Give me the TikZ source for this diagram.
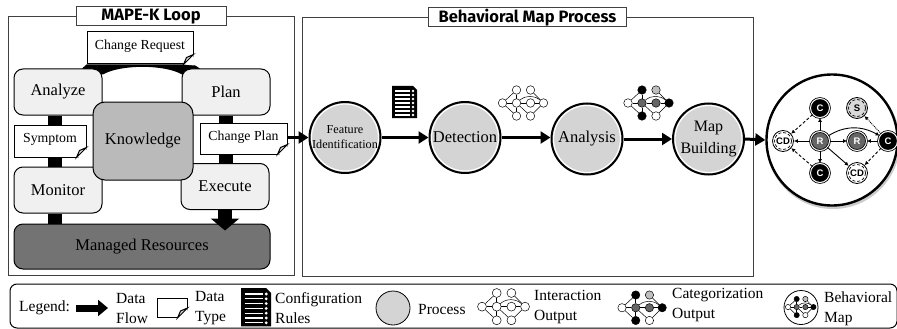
\documentclass[tikz,border=0pt]{standalone}
\usepackage{fontspec}
\setmainfont{Liberation Serif}
\newfontfamily\titlefont{Fira Sans}
\setsansfont{Liberation Sans}
\usetikzlibrary{arrows.meta,backgrounds,bending}
\definecolor{boxgray}{gray}{0.94}
\definecolor{knowgray}{gray}{0.73}
\definecolor{resgray}{gray}{0.45}
\definecolor{procgray}{gray}{0.83}
\tikzset{
frame/.style={draw=black!75,line width=1},
titlebox/.style={draw=black!75,fill=white,line width=1,font=\titlefont\bfseries\fontsize{16.5}{16.5}\selectfont,inner sep=0,minimum height=19},
mape/.style={draw=black,fill=boxgray,line width=1,rounded corners=9,minimum width=88,minimum height=46,inner sep=0,font=\fontsize{16.5}{18}\selectfont},
datatype/.style={draw=black,fill=white,line width=1,inner sep=0,text depth=6,font=\fontsize{13.8}{15}\selectfont},
process/.style={circle,draw=black,fill=procgray,line width=2,minimum size=71,inner sep=0,align=center,font=\fontsize{16.5}{22}\selectfont,
  path picture={\draw[white,line width=1.2] (path picture bounding box.center) circle (33.5);}},
flowbar/.style={line width=14,black},
flow/.style={line width=3,-{Triangle[length=10,width=12]}},
legtext/.style={anchor=west,align=left,inner sep=0,font=\fontsize{15.5}{20}\selectfont},
mapnode/.style={circle,draw=black,line width=.8,minimum size=21,inner sep=0,font=\sffamily\bfseries\fontsize{9.5}{9.5}\selectfont},
mapedge/.style={line width=.9,-{Latex[length=4,width=4]}},
mapdash/.style={mapedge,densely dashed},
mapdot/.style={mapedge,densely dotted},
chosen/.style={mapnode,double=white,double distance=1,fill=#1,text=white,minimum size=19},
ringed/.style={mapnode,fill=#1,path picture={\draw[densely dashed,line width=.7] (path picture bounding box.center) circle (8.5);}}
}
% #1 name, #2 x, #3 y, #4 w, #5 h, #6 text
\newcommand{\notebox}[6]{
\node[datatype,minimum width=#4,minimum height=#5] (#1) at (#2,#3) {#6};
\fill[white] ([xshift=-10]#1.south east) -- ([yshift=10]#1.south east) -- ([xshift=1,yshift=-1]#1.south east) -- cycle;
\draw[line width=1,fill=black!15] ([xshift=-10]#1.south east) -- ([yshift=10]#1.south east) -- ([xshift=-7,yshift=7]#1.south east) -- cycle;
}
% #1 x, #2 y, #3 scale
\newcommand{\rulesicon}[3]{
\begin{scope}[shift={(#1,#2)},scale=#3]
\fill[black] (0,0)--(21,0)--(25,4)--(25,32)--(0,32)--cycle;
\foreach \a in {5,9,...,29}{
	\draw[white,line width=1.3] (3,\a)--(18,\a);
	\fill[white] (21,\a) circle (1.3);
}
\end{scope}
}
% #1 name, #2 x, #3 y, #4 scale, #5 outer, #6 middle, #7 spare
\newcommand{\flowgraph}[7]{
\begin{scope}[shift={(#2,#3)},scale=#4,every node/.style={circle,draw=black,line width=.5,inner sep=0,minimum size=#4*8.5}]
\foreach \n/\px/\py/\col in {l/0/13/white,a/14/0/#5,b/14/13/#6,c/14/26/#5,d/28/0/#7,e/28/13/#6,f/28/26/white,r/41/13/#5}{
	\node[fill=\col] (#1\n) at (\px,\py) {};
}
\end{scope}
\begin{scope}[on background layer]
\foreach \a/\b in {l/a,l/b,l/c,a/b,b/c,b/e,d/r,e/r,f/r,b/f}{
	\draw[line width=.5] (#1\a)--(#1\b);
}
\draw[line width=.5] (#1b) to[bend left=40] (#1r);
\end{scope}
}
\begin{document}
\begin{tikzpicture}[x=1pt,y=-1pt]
\useasboundingbox (0,0) rectangle (897,329);
% MAPE-K side
\node[frame,minimum width=286,minimum height=258] (mapeframe) at (151,146) {};
\node[titlebox,minimum width=150] (mapetitle) at (mapeframe.north) {MAPE-K Loop};
\node[mape] (analyze) at (58,92) {Analyze};
\node[mape] (plan) at (226,92) {Plan};
\node[mape] (monitor) at (58,190) {Monitor};
\node[mape] (execute) at (225,186.5) {Execute};
\node[mape,fill=resgray,minimum width=256,minimum height=45] (managed) at (142,246.5) {Managed Resources};
\node[mape,fill=knowgray,minimum width=100,minimum height=78,rounded corners=12] (knowledge) at (143,141) {Knowledge};
\notebox{request}{140}{48}{106}{32}{Change Request}
\notebox{symptom}{50}{141}{72}{32}{Symptom}
\notebox{change}{243.5}{138.5}{87}{31}{Change Plan}
\begin{pgfonlayer}{background}
\draw[flowbar] ([xshift=-3]analyze.south)--([xshift=-3]monitor.north);
\draw[flowbar] ([xshift=-3]monitor.south)--([xshift=-3]monitor.south |- managed.north);
\draw[flowbar] (plan.south)--(plan.south |- execute.north);
\fill[black] ([xshift=24]analyze.north)--(request.south west)--(request.south east)--([xshift=-26]plan.north)
  --([xshift=-44,yshift=-6]plan.north) .. controls (165,64.3) and (120,64.3) .. ([xshift=45,yshift=-6]analyze.north)--cycle;
\end{pgfonlayer}
\draw[line width=14,-{Triangle[length=12,width=28]}] (execute.south)--([yshift=-7]execute.south |- managed.north);
% behavioral map process
\node[frame,minimum width=451,minimum height=258] (procframe) at (527.5,147) {};
\node[titlebox,minimum width=198] (proctitle) at (procframe.north) {Behavioral Map Process};
\node[process,font=\fontsize{12.2}{15}\selectfont] (feature) at (345,137.5) {Feature\\Identification};
\node[process] (detect) at (465,137.5) {Detection};
\node[process] (analysis) at (587,139) {Analysis};
\node[process,font=\fontsize{16}{22}\selectfont] (building) at (708.5,139) {Map\\Building};
\draw[flow] (change.east |- feature.west)--(feature.west);
\draw[flow] (feature)--(detect);
\draw[flow] (detect.east)--(detect.east -| analysis.west);
\draw[flow] (analysis)--(building);
\rulesicon{392}{86}{1}
\flowgraph{plain}{502.5}{90}{1}{white}{white}{white}
\flowgraph{cat}{628}{90}{1}{black}{black!60}{black!25}
% behavioral map
\fill[black!20] (833,142) circle (67);
\node[circle,draw=black,fill=white,line width=2.4,minimum size=131,inner sep=0] (bigmap) at (832,140) {};
\draw[flow] (building.east)--(bigmap.west);
\node[chosen=black!60] (ra) at (820,141) {R};
\node[chosen=black!60] (rb) at (857,141) {R};
\node[chosen=black] (cr) at (888,141) {C};
\node[chosen=black] (ct) at (820,108) {C};
\node[chosen=black] (cb) at (820,173) {C};
\node[ringed=white] (cdl) at (783,141) {CD};
\node[ringed=white] (cdb) at (857,173) {CD};
\node[ringed=black!15] (sv) at (857,108) {S};
\foreach \a/\b in {ra/ct,ra/cb,ra/cdl,ra/rb,ra/cdb,cr/rb}{
	\draw[mapedge] (\a)--(\b);
}
\draw[mapedge] (ra) to[bend left=32] (cr);
\draw[mapdash] (ct)--(cdl);
\draw[mapdash] (cb)--(cdl);
\draw[mapdash] (cr)--(cdb);
\draw[mapdot] (cr)--(sv);
% legend
\node[draw=black,line width=1,rounded corners=7,minimum width=887,minimum height=44,inner sep=0] (legend) at (453.5,306) {};
\node[legtext] (legname) at (19,308) {Legend:};
\coordinate (flowa) at (76,308);
\coordinate (flowb) at (108,308);
\draw[line width=7,-{Triangle[length=10,width=16]}] (flowa)--(flowb);
\node[legtext] (legflow) at (116,308) {Data\\Flow};
\notebox{legnote}{172}{308}{30}{19}{}
\node[legtext] (legtype) at (195,308) {Data\\Type};
\rulesicon{241}{288}{1.2}
\node[legtext] (legrules) at (275,308) {Configuration\\Rules};
\node[circle,draw=black,fill=procgray,line width=.8,minimum size=34,inner sep=0] (legproc) at (393,308) {};
\node[legtext] (legprocname) at (418,309) {Process};
\flowgraph{legplain}{482}{293}{1.05}{white}{white}{white}
\node[legtext] (leginter) at (534,307.5) {Interaction\\Output};
\flowgraph{legcat}{622}{295}{0.98}{black}{black!60}{black!25}
\node[legtext] (legcatname) at (672,305.5) {Categorization\\Output};
\node[circle,draw=black,line width=.8,minimum size=34,inner sep=0] (legmap) at (801,307.5) {};
\flowgraph{legsmall}{788}{299}{0.62}{black}{black!60}{black!25}
\node[legtext] (legmapname) at (824,308.5) {Behavioral\\Map};
\end{tikzpicture}
\end{document}
